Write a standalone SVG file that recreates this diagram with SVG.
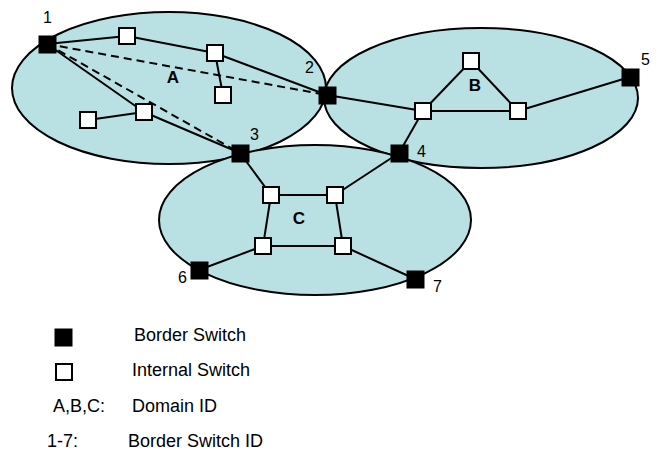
<svg xmlns="http://www.w3.org/2000/svg" width="659" height="453" viewBox="0 0 659 453">
<style>
.dom{fill:#b9e0e3;stroke:#000;stroke-width:2}
.ln{stroke:#000;stroke-width:2;fill:none}
.ds{stroke:#000;stroke-width:2;fill:none;stroke-dasharray:8,5}
.bs{fill:#000;stroke:#000;stroke-width:1}
.is{fill:#fff;stroke:#000;stroke-width:2}
.num{font-family:"Liberation Sans",Arial,sans-serif;font-size:16px;fill:#000}
.lab{font-family:"Liberation Sans",Arial,sans-serif;font-size:17px;font-weight:bold;fill:#000;text-anchor:middle}
.leg{font-family:"Liberation Sans",Arial,sans-serif;font-size:18px;fill:#000}
</style>
<g id="domains">
<ellipse id="domainA" class="dom" cx="169" cy="88" rx="157" ry="76"/>
<ellipse id="domainB" class="dom" cx="481" cy="98" rx="157" ry="70"/>
<ellipse id="domainC" class="dom" cx="315" cy="220" rx="156" ry="75"/>
</g>
<g id="connectors">
<line class="ln" x1="47" y1="44" x2="127" y2="36"/>
<line class="ln" x1="127" y1="36" x2="215" y2="53"/>
<line class="ln" x1="215" y1="53" x2="327" y2="95"/>
<line class="ln" x1="215" y1="53" x2="223" y2="95"/>
<line class="ln" x1="47" y1="44" x2="144" y2="112"/>
<line class="ln" x1="144" y1="112" x2="88" y2="120"/>
<line class="ln" x1="144" y1="112" x2="240" y2="153"/>
<line class="ds" x1="47" y1="44" x2="327" y2="95"/>
<line class="ds" x1="47" y1="44" x2="240" y2="153"/>
<line class="ln" x1="327" y1="95" x2="423" y2="111"/>
<line class="ln" x1="423" y1="111" x2="471" y2="61"/>
<line class="ln" x1="471" y1="61" x2="518" y2="111"/>
<line class="ln" x1="423" y1="111" x2="518" y2="111"/>
<line class="ln" x1="518" y1="111" x2="630" y2="77"/>
<line class="ln" x1="423" y1="111" x2="399" y2="153"/>
<line class="ln" x1="240" y1="153" x2="271" y2="195"/>
<line class="ln" x1="271" y1="195" x2="335" y2="195"/>
<line class="ln" x1="335" y1="195" x2="399" y2="153"/>
<line class="ln" x1="271" y1="195" x2="263" y2="246"/>
<line class="ln" x1="335" y1="195" x2="343" y2="246"/>
<line class="ln" x1="263" y1="246" x2="343" y2="246"/>
<line class="ln" x1="263" y1="246" x2="199" y2="270"/>
<line class="ln" x1="343" y1="246" x2="415" y2="279"/>
</g>
<g id="node1"><rect class="bs" x="39" y="36" width="17" height="17"/><text class="num" x="43" y="23">1</text></g>
<g id="node2"><rect class="bs" x="319" y="87" width="17" height="17"/><text class="num" x="305" y="73">2</text></g>
<g id="node3"><rect class="bs" x="232" y="145" width="17" height="17"/><text class="num" x="250" y="140">3</text></g>
<g id="node4"><rect class="bs" x="391" y="145" width="17" height="17"/><text class="num" x="417" y="157">4</text></g>
<g id="node5"><rect class="bs" x="622" y="69" width="17" height="17"/><text class="num" x="641" y="65">5</text></g>
<g id="node6"><rect class="bs" x="191" y="262" width="17" height="17"/><text class="num" x="178" y="283">6</text></g>
<g id="node7"><rect class="bs" x="407" y="271" width="17" height="17"/><text class="num" x="433" y="292">7</text></g>
<g id="a1"><rect class="is" x="119" y="28" width="16" height="16"/></g>
<g id="a2"><rect class="is" x="207" y="45" width="16" height="16"/></g>
<g id="a3"><rect class="is" x="215" y="87" width="16" height="16"/></g>
<g id="a4"><rect class="is" x="136" y="104" width="16" height="16"/></g>
<g id="a5"><rect class="is" x="80" y="112" width="16" height="16"/></g>
<g id="b1"><rect class="is" x="463" y="53" width="16" height="16"/></g>
<g id="b2"><rect class="is" x="415" y="103" width="16" height="16"/></g>
<g id="b3"><rect class="is" x="510" y="103" width="16" height="16"/></g>
<g id="c1"><rect class="is" x="263" y="187" width="16" height="16"/></g>
<g id="c2"><rect class="is" x="327" y="187" width="16" height="16"/></g>
<g id="c3"><rect class="is" x="255" y="238" width="16" height="16"/></g>
<g id="c4"><rect class="is" x="335" y="238" width="16" height="16"/></g>
<g id="labels">
<text class="lab" x="173" y="83">A</text>
<text class="lab" x="475" y="91">B</text>
<text class="lab" x="299" y="224">C</text>
</g>
<g id="legend">
<rect class="bs" x="55" y="329" width="17" height="17"/>
<text class="leg" x="134" y="341">Border Switch</text>
<rect class="is" x="56" y="364" width="16" height="16"/>
<text class="leg" x="132" y="376">Internal Switch</text>
<text class="leg" x="53" y="412">A,B,C:</text>
<text class="leg" x="132" y="412">Domain ID</text>
<text class="leg" x="47" y="447">1-7:</text>
<text class="leg" x="128" y="447">Border Switch ID</text>
</g>
</svg>
